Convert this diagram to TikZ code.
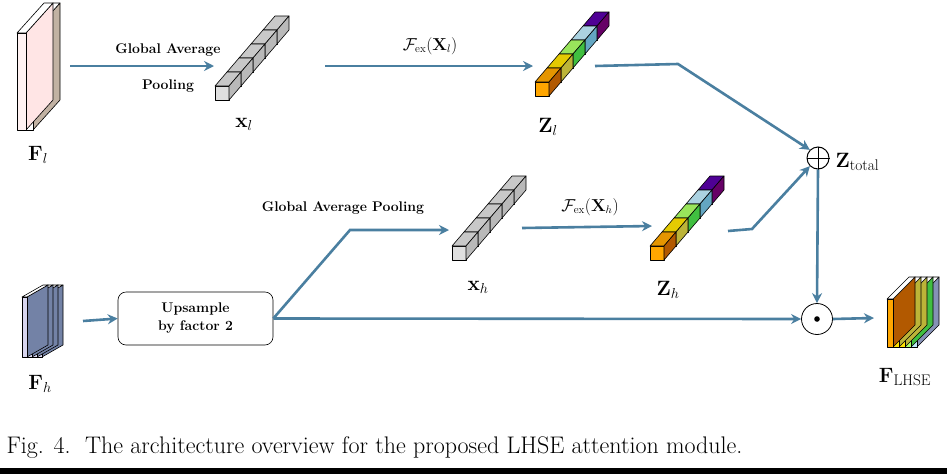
\documentclass[tikz,border=0pt]{standalone}
\usepackage{amsmath,amssymb}
\usetikzlibrary{arrows.meta}
\definecolor{ar}{HTML}{4A7FA0}
\begin{document}
\begin{tikzpicture}[x=1pt,y=-1pt,
  con/.style={draw=ar,line width=2.6pt,-{Stealth[length=10pt,width=10pt]}},
  lbl/.style={font=\bfseries\fontsize{14}{16}\selectfont},
  mlab/.style={font=\fontsize{22}{24}\selectfont},
  fe/.style={black,line width=0.6pt,line join=round}]
\useasboundingbox (0,0) rectangle (947,474);
\fill[white] (0,0) rectangle (947,474);
% cube: x y frontcolor sidecolor
\newcommand\mycube[4]{%
 \filldraw[fe,fill=#3] (#1,#2) rectangle ++(14,-14);
 \filldraw[fe,fill=#3] (#1,#2-14) -- ++(12,-14) -- ++(14,0) -- ++(-12,14) -- cycle;
 \fill[black,opacity=0.1] (#1,#2-14) -- ++(12,-14) -- ++(14,0) -- ++(-12,14) -- cycle;
 \filldraw[fe,fill=#4] (#1+14,#2) -- ++(0,-14) -- ++(12,-14) -- ++(0,14) -- cycle;}
\newcommand\greybar[2]{\foreach \i in {4,...,0}{\mycube{#1+12*\i}{#2-14*\i}{gray!25}{gray!55}}}
\newcommand\colbar[2]{%
 \mycube{#1+48}{#2-56}{violet!70!blue}{violet!80!black}
 \mycube{#1+36}{#2-42}{cyan!25}{cyan!50!gray}
 \mycube{#1+24}{#2-28}{green!40!lime!60}{green!50!gray}
 \mycube{#1+12}{#2-14}{yellow!85!orange}{yellow!70!black}
 \mycube{#1}{#2}{orange!70!yellow}{orange!70!black}}
% slab: x ytop ybottom width dx dy front side
\newcommand\slab[8]{%
 \filldraw[fe,fill=#8] (#1+#4,#3) -- (#1+#4,#2) -- ++(#5,#6) -- (#1+#4+#5,#3+#6) -- cycle;
 \filldraw[fe,fill=white] (#1,#2) -- ++(#5,#6) -- ++(#4,0) -- (#1+#4,#2) -- cycle;
 \filldraw[fe,fill=#7] (#1,#2) rectangle (#1+#4,#3);}
% F_l
\slab{26}{33}{130}{7}{27}{-30}{white}{brown!40!gray!60}
\slab{17}{33}{130}{9}{27}{-30}{red!5}{red!10}
\node[mlab] (Fl) at (38,155) {$\mathbf{F}_l$};
% X_l
\greybar{215}{100}
\node[mlab] (Xl) at (244,124) {$\mathbf{x}_l$};
% Z_l
\colbar{535}{96}
\node[mlab] (Zl) at (548,127) {$\mathbf{Z}_l$};
% F_h
\foreach \x in {37,32,27,22}{\slab{\x}{297}{357}{5}{21}{-12}{cyan!20!blue!15}{cyan!45!blue!40!gray}}
\node[mlab] (Fh) at (40,384) {$\mathbf{F}_h$};
% Upsample
\node[draw,rounded corners=8pt,line width=0.6pt,minimum width=155pt,minimum height=53pt,lbl,align=center] (up) at (195.5,318.5) {Upsample\\[2pt]by factor 2};
% X_h
\greybar{452}{260}
\node[mlab] (Xh) at (478,287) {$\mathbf{x}_h$};
% Z_h
\colbar{650}{260}
\node[mlab] (Zh) at (668,290) {$\mathbf{Z}_h$};
% operators
\node[circle,draw,line width=1pt,minimum size=22pt,inner sep=0pt] (plus) at (818,158) {};
\draw[line width=1pt] (plus.north)--(plus.south) (plus.west)--(plus.east);
\node[mlab,anchor=west] (Zt) at (832,162) {$\mathbf{Z}_{\text{total}}$};
\node[circle,draw,line width=0.8pt,minimum size=31pt,inner sep=0pt] (dot) at (817,319) {};
\fill (dot.center) circle (2.8pt);
% F_LHSE
\slab{911}{299}{347}{6}{22}{-22}{cyan!25}{cyan!40!blue!45!gray!80}
\slab{905}{299}{347}{6}{22}{-22}{green!40!lime!60}{green!50!gray}
\slab{899}{299}{347}{6}{22}{-22}{yellow!85!orange}{yellow!70!black}
\slab{893}{299}{347}{6}{22}{-22}{yellow!85!orange}{yellow!70!black}
\slab{887}{299}{347}{6}{22}{-22}{orange!70!yellow}{orange!70!black}
\node[mlab] (FL) at (905,377) {$\mathbf{F}_{\text{LHSE}}$};
% connectors
\coordinate (a1) at (70,66); \coordinate (a2) at (214,66);
\draw[con] (a1)--(a2);
\node[lbl] (gap1) at (168,50) {Global Average};
\node[lbl] (gap2) at (168,86) {Pooling};
\coordinate (b1) at (325,66); \coordinate (b2) at (533,66);
\draw[con] (b1)--(b2);
\node[font=\fontsize{16}{18}\selectfont] (f1) at (430,46) {$\mathcal{F}_{\text{ex}}(\mathbf{X}_l)$};
\coordinate (c1) at (595,66); \coordinate (c2) at (678,64);
\draw[con] (c1)--(c2)--(plus.north west);
\coordinate (d1) at (83,321);
\draw[con] (d1)--(up.west);
\coordinate (e1) at (350,230); \coordinate (e2) at (449,230);
\draw[con] (up.east)--(e1)--(e2);
\node[lbl] (gap3) at (343,208) {Global Average Pooling};
\draw[con] (up.east)--(dot.west);
\coordinate (g1) at (522,228); \coordinate (g2) at (652,226);
\draw[con] (g1)--(g2);
\node[font=\fontsize{16}{18}\selectfont] (f2) at (590,207) {$\mathcal{F}_{\text{ex}}(\mathbf{X}_h)$};
\coordinate (h1) at (728,231); \coordinate (h2) at (752,229);
\draw[con] (h1)--(h2)--(plus.south west);
\draw[con] (plus.south)--(dot.north);
\coordinate (k2) at (874,318);
\draw[con] (dot.east)--(k2);
% caption
\node[anchor=west,font=\fontsize{24}{26}\selectfont] (cap) at (3,448) {Fig. 4.\ \ The architecture overview for the proposed LHSE attention module.};
\fill[black] (0,468) rectangle (947,474);
\end{tikzpicture}
\end{document}
